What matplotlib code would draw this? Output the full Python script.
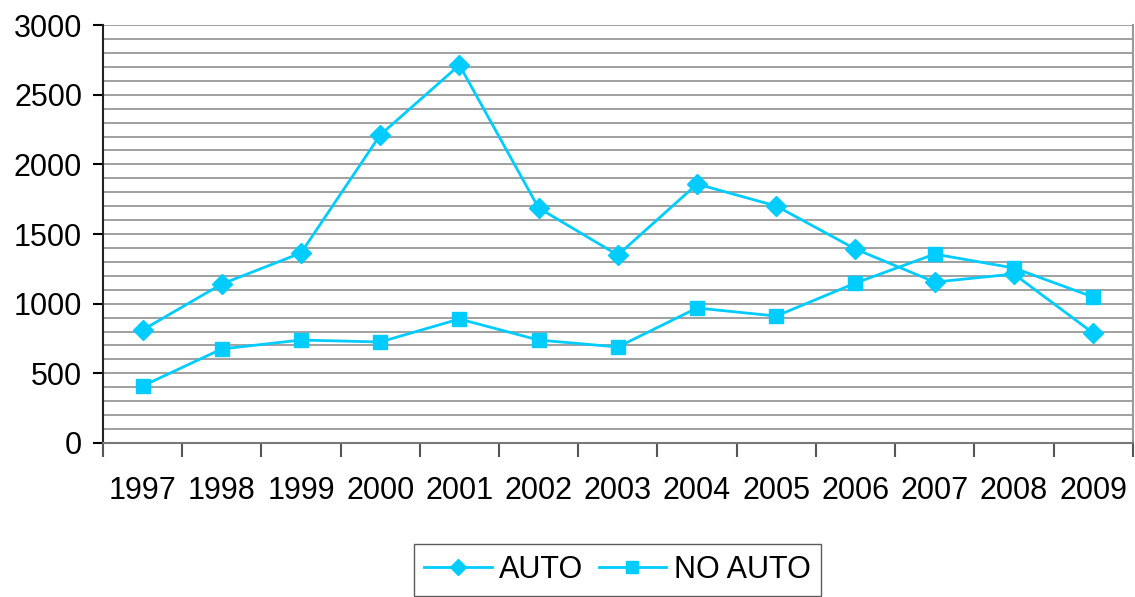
import matplotlib
matplotlib.use("Agg")
import matplotlib.pyplot as plt
from matplotlib.ticker import MultipleLocator, FixedLocator
import numpy as np

years = ["1997", "1998", "1999", "2000", "2001", "2002", "2003",
         "2004", "2005", "2006", "2007", "2008", "2009"]
auto = [811, 1141, 1364, 2211, 2713, 1687, 1349, 1859, 1701, 1392, 1155, 1213, 789]
no_auto = [409, 675, 739, 725, 890, 739, 689, 969, 911, 1148, 1356, 1256, 1048]

plt.rcParams['font.family'] = ['Liberation Sans', 'DejaVu Sans']
color = "#00CCFF"

fig = plt.figure(figsize=(11.35, 5.97), dpi=100)
ax = fig.add_axes([0.0907, 0.258, 0.9073, 0.700])

x = np.arange(len(years))
ax.plot(x, auto, color=color, lw=2, marker='D', ms=10, mec=color, label="AUTO")
ax.plot(x, no_auto, color=color, lw=2, marker='s', ms=10, mec=color, label="NO AUTO")

ax.set_xlim(-0.5, len(years) - 0.5)
ax.set_ylim(0, 3000)
ax.yaxis.set_major_locator(MultipleLocator(500))
ax.yaxis.set_minor_locator(MultipleLocator(100))
ax.grid(True, which='both', axis='y', color='#999999', lw=1.3)
ax.set_axisbelow(True)

ax.xaxis.set_major_locator(FixedLocator(x))
ax.xaxis.set_minor_locator(FixedLocator(np.arange(-0.5, len(years), 1.0)))
ax.set_xticklabels(years)
ax.tick_params(axis='x', which='major', length=0, pad=24, labelsize=22)
ax.tick_params(axis='x', which='minor', length=10, width=1.5, color='#555555', direction='out')
ax.tick_params(axis='y', which='major', length=7, width=1.5, labelsize=22, pad=8)
ax.tick_params(axis='y', which='minor', length=0)

ax.spines['top'].set_visible(False)
ax.spines['left'].set_color('#222222')
ax.spines['left'].set_linewidth(1.5)
ax.spines['bottom'].set_color('#777777')
ax.spines['bottom'].set_linewidth(1.5)
ax.spines['right'].set_color('#999999')
ax.spines['right'].set_linewidth(1.5)

leg = fig.legend(loc='upper center', bbox_to_anchor=(0.544, 0.088), ncol=2,
                 fontsize=22, frameon=True, fancybox=False, edgecolor='#333333',
                 handlelength=2.2, handletextpad=0.25, columnspacing=0.5,
                 borderpad=0.35, borderaxespad=0.0, markerscale=0.8)
leg.get_frame().set_linewidth(1.0)

fig.savefig("out.png", dpi=100)
